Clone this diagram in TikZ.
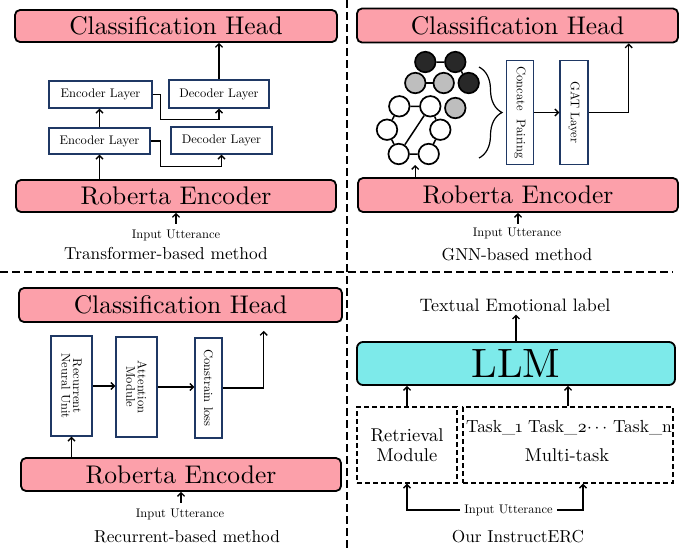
\documentclass[tikz,border=0pt]{standalone}
\usepackage{fontspec}
\setmainfont{lmroman10-regular.otf}
\usetikzlibrary{arrows.meta,calc,decorations.pathreplacing}
\definecolor{pinkc}{RGB}{252,160,170}
\definecolor{cyanc}{RGB}{125,234,234}
\definecolor{navyc}{RGB}{31,56,100}
\definecolor{grayc}{RGB}{190,190,190}
\definecolor{darkc}{RGB}{40,40,40}
\newcommand{\fs}[1]{\fontsize{#1}{#1}\selectfont}
\begin{document}
\begin{tikzpicture}[x=1pt,y=-1pt,
  pinkbox/.style={draw,line width=1.8pt,rounded corners=5pt,fill=pinkc,inner sep=0pt,font=\fs{25.5}},
  layerbox/.style={draw=navyc,line width=1.4pt,fill=white,inner sep=0pt,font=\fs{12.5}},
  dbox/.style={draw,dash pattern=on 5pt off 3pt,line width=1.4pt,inner sep=0pt,font=\fs{18.5},align=center},
  ar/.style={-{Straight Barb[length=3.5pt,width=7pt]},line width=1.3pt},
  ln/.style={line width=1.5pt},
  small/.style={font=\fs{12.5},inner sep=1pt},
  capt/.style={font=\fs{17.3},inner sep=0pt},
  gn/.style={circle,draw,line width=1.7pt,minimum size=20.5pt,inner sep=0pt},
  sep/.style={line width=2.6pt,dash pattern=on 8pt off 4pt}]
\useasboundingbox (0,0) rectangle (683,550);

% separators
\draw[sep] (347,0) coordinate (vt) -- (347,550) coordinate (vb);
\draw[sep] (0,272) coordinate (hl) -- (673,272) coordinate (hr);

% ---------- top-left: transformer ----------
\node[pinkbox,minimum width=322pt,minimum height=32pt] (ch1) at (176,26) {Classification Head};
\node[pinkbox,minimum width=320pt,minimum height=32pt] (re1) at (176,196) {Roberta Encoder};
\node[layerbox,minimum width=103pt,minimum height=27pt] (enc2) at (100.5,94.5) {Encoder Layer};
\node[layerbox,minimum width=100pt,minimum height=28pt] (dec2) at (219,94) {Decoder Layer};
\node[layerbox,minimum width=101pt,minimum height=26pt] (enc1) at (99.5,141) {Encoder Layer};
\node[layerbox,minimum width=101pt,minimum height=27pt] (dec1) at (221.5,140.5) {Decoder Layer};
\draw[ar] (re1.north -| enc1.south) -- (enc1.south);
\draw[ar] (enc1.north) -- (enc1.north |- enc2.south);
\draw[ar] (enc2.east) -- ++(8,0) |- ($(dec2.south)+(0,11)$) -- (dec2.south);
\draw[ar] (enc1.east) -- ++(10,0) |- ($(dec1.south)+(0,12)$) -- (dec1.south);
\draw[ar] (dec2.north) -- (dec2.north |- ch1.south);
\node[small] (in1) at (176,235) {Input Utterance};
\draw[ar] ($(re1.south)+(0,11)$) -- (re1.south);
\node[capt] (cap1) at (166,253) {Transformer-based method};

% ---------- top-right: GNN ----------
\node[pinkbox,minimum width=321pt,minimum height=34pt] (ch2) at (517.5,25.5) {Classification Head};
\node[pinkbox,minimum width=320pt,minimum height=34pt] (re2) at (518,195) {Roberta Encoder};
% graph layers (back to front)
\node[gn,fill=darkc] (b1) at (425.3,62) {};
\node[gn,fill=darkc] (b2) at (455.3,62) {};
\node[gn,fill=darkc] (b3) at (468.7,83) {};
\draw[ln] (b1) -- (b2) (b2) -- (b3);
\node[gn,fill=grayc] (g1) at (415.3,83) {};
\node[gn,fill=grayc] (g2) at (443.7,83) {};
\node[gn,fill=grayc] (g3) at (455.3,108) {};
\draw[ln] (g1) -- (g2);
\node[gn,fill=white] (w1) at (399.3,106.3) {};
\node[gn,fill=white] (w2) at (430.3,106.3) {};
\node[gn,fill=white] (w3) at (387,129.7) {};
\node[gn,fill=white] (w4) at (440.3,129.7) {};
\node[gn,fill=white] (w5) at (398.7,154) {};
\node[gn,fill=white] (w6) at (428.7,154) {};
\draw[ln] (w1) -- (w2) (w2) -- (w5) (w5) -- (w6) (w1) -- (w3) (w3) -- (w5) (w6) -- (w4) (w4) -- (w2);
\coordinate (gbot) at ($(w5)!0.55!(w6)+(0,11)$);
\draw[ar] (re2.north -| gbot) -- (gbot);
\draw[line width=1.2pt,decorate,decoration={brace,amplitude=23pt}] (479,67) coordinate (bt) -- (479,158) coordinate (bb);
\node[layerbox,minimum width=27pt,minimum height=104pt] (cp) at (520,112.5) {};
\node[rotate=-90,font=\fs{12.5}] at (cp) {Concate\ \ Pairing};
\node[layerbox,minimum width=28pt,minimum height=104pt] (gat) at (574,112.5) {};
\node[rotate=-90,font=\fs{12.5}] at (gat) {GAT Layer};
\draw[ar] (cp.east) -- (gat.west);
\draw[ar] (gat.east) -- ++(40,0) coordinate (gc) -- (gc |- ch2.south);
\node[small] (in2) at (517,233) {Input Utterance};
\draw[ar] ($(re2.south)+(0,11)$) -- (re2.south);
\node[capt] (cap2) at (517,255) {GNN-based method};

% ---------- bottom-left: recurrent ----------
\node[pinkbox,minimum width=323pt,minimum height=34pt] (ch3) at (180.5,305) {Classification Head};
\node[pinkbox,minimum width=320pt,minimum height=33pt] (re3) at (181,474.5) {Roberta Encoder};
\node[layerbox,minimum width=41pt,minimum height=100pt] (rnu) at (71.5,386) {};
\node[rotate=-90,font=\fs{12.5},align=center,inner sep=0pt] at (rnu) {Recurrent\\[-1pt]Neural Unit};
\node[layerbox,minimum width=41pt,minimum height=100pt] (att) at (136.5,387) {};
\node[rotate=-90,font=\fs{12.5},align=center,inner sep=0pt] at (att) {Attention\\[-1pt]Module};
\node[layerbox,minimum width=27pt,minimum height=100pt] (cl) at (208.5,388) {};
\node[rotate=-90,font=\fs{12.5}] at (cl) {Constrain loss};
\draw[ar] (rnu.east) -- (rnu.east -| att.west);
\draw[ar] (att.east) -- (att.east -| cl.west);
\draw[ar] (cl.east) -- ++(41,0) coordinate (cc) -- ($(cc |- ch3.south)+(0,8)$);
\draw[ar] (re3.north -| rnu.south) -- (rnu.south);
\node[small] (in3) at (180,514) {Input Utterance};
\draw[ar] ($(re3.south)+(0,11)$) -- (re3.south);
\node[capt] (cap3) at (187,537) {Recurrent-based method};

% ---------- bottom-right: InstructERC ----------
\node[capt,font=\fs{18}] (lab) at (515,305) {Textual Emotional label};
\node[draw,line width=1.8pt,rounded corners=6pt,fill=cyanc,minimum width=318pt,minimum height=43pt,inner sep=0pt,font=\fs{41}] (llm) at (516,363.5) {LLM};
\draw[ar] (llm.north) -- ($(llm.north |- lab.south)+(0,3)$);
\node[dbox,minimum width=100pt,minimum height=76pt] (rm) at (407,445) {Retrieval\\[1pt]Module};
\node[dbox,minimum width=210pt,minimum height=76pt] (mt) at (568,445) {};
\node[font=\fs{17.5},inner sep=0pt] (tasks) at (569,428) {Task\_\oldstylenums{1} Task\_\oldstylenums{2}$\cdots$ Task\_n};
\node[font=\fs{18.5},inner sep=0pt] (mtl) at (567,455) {Multi-task};
\draw[ar] (rm.north) -- (rm.north |- llm.south);
\draw[ar] (mt.north) -- (mt.north |- llm.south);
\node[small,inner sep=4pt] (in4) at (508.5,510) {Input Utterance};
\draw[ar] (in4.west) -| (rm.south);
\draw[ar] (in4.east) -| ($(mt.south)+(15,0)$);
\node[capt] (cap4) at (518,537) {Our InstructERC};
\end{tikzpicture}
\end{document}
